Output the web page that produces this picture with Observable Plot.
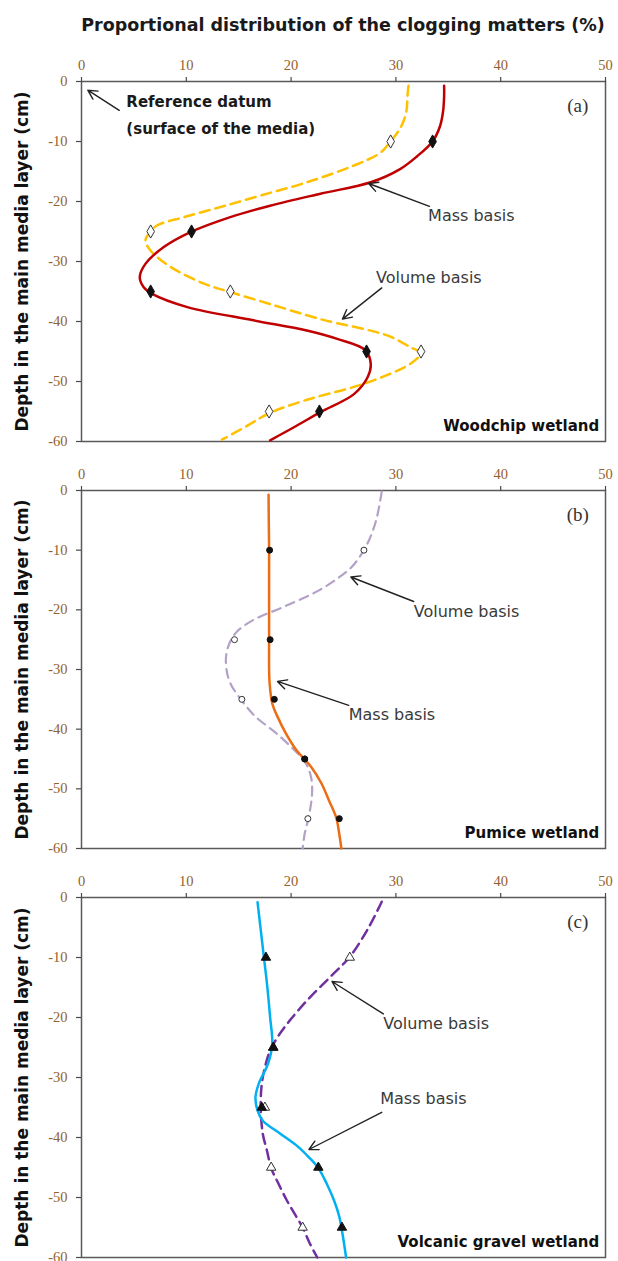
<!DOCTYPE html>
<html>
<head>
<meta charset="utf-8">
<script src="https://cdn.jsdelivr.net/npm/d3@7"></script>
<script src="https://cdn.jsdelivr.net/npm/@observablehq/plot@0.6"></script>
<style>
  html, body { margin: 0; padding: 0; background: #fff; }
  #chart { width: 618px; }
  #title { height: 45px; box-sizing: border-box; padding-left: 81px; width: 618px; padding-right: 13px;
           font-family: "DejaVu Sans", sans-serif; font-weight: bold; font-size: 17.5px; color: #1a1a1a;
           text-align: center; line-height: 50px; white-space: nowrap; }
  svg { display: block; }
</style>
</head>
<body>
<div id="chart">
  <div id="title">Proportional distribution of the clogging matters (%)</div>
</div>
<script>
// ---- data: sample depths (cm) and measured proportions (%) ----
const depths = [-10, -25, -35, -45, -55];
const woodMass = [33.5, 10.5, 6.6, 27.2, 22.7];
const woodVol = [29.5, 6.6, 14.2, 32.4, 17.9];
const pumiceMass = [17.95, 18.0, 18.4, 21.3, 24.6];
const pumiceVol = [26.95, 14.6, 15.3, 21.3, 21.6];
const gravelMass = [17.6, 18.3, 17.2, 22.6, 24.85];
const gravelVol = [25.6, 18.3, 17.5, 18.1, 21.1];

// ---- fitted curves (depth, value) ----
const woodMassCurveDepth = [-0.7, -2.5, -5, -7.5, -10, -12.5, -14.6, -16.8, -18.7, -20.7, -22.6, -25.1, -27.6, -30.4, -32.6, -34.3, -35.4, -37.6, -39.8, -41.5, -42.9, -44.8, -47.1, -49.3, -52.1, -55.1, -57.5, -59.8];
const woodMassCurve = [34.6, 34.6, 34.5, 34.2, 33.5, 32.0, 30.4, 27.6, 22.8, 18.0, 14.2, 10.4, 7.85, 6.1, 5.56, 5.94, 6.75, 10.1, 16.4, 21.5, 24.4, 27.1, 27.6, 27.3, 26.0, 22.8, 20.4, 18.0];
const woodVolCurveDepth = [-0.7, -2.5, -5, -7.5, -10, -11.9, -14.0, -16.8, -19.0, -20.9, -22.6, -24.0, -25.2, -26.5, -28.2, -30.9, -33.7, -35.1, -37.1, -39.6, -42.4, -44.4, -45.2, -46.9, -48.9, -50.9, -53.0, -55.3, -57.5, -59.7];
const woodVolCurve = [31.2, 31.1, 31.0, 30.5, 29.5, 28.5, 26.0, 21.5, 17.1, 13.3, 9.8, 7.2, 6.5, 6.1, 6.6, 8.5, 11.7, 14.2, 18.0, 22.8, 29.3, 31.5, 32.4, 31.5, 29.2, 26.0, 21.6, 17.9, 15.7, 13.4];
const pumiceMassCurveDepth = [-0.7, -5, -10, -15, -20, -25, -30, -32.3, -35.7, -37.9, -40.7, -43.5, -46.3, -49.1, -51.9, -54.8, -57.6, -60];
const pumiceMassCurve = [17.85, 17.87, 17.9, 17.9, 17.9, 17.9, 17.9, 17.95, 18.2, 18.7, 19.5, 20.5, 21.9, 22.9, 23.6, 24.3, 24.6, 24.8];
const pumiceVolCurveDepth = [-0.2, -4.4, -7.2, -10, -12.8, -14.4, -16.7, -19.5, -21.7, -23.9, -26.7, -29.5, -32.3, -35.2, -37.9, -40.7, -43.5, -45.4, -48, -50.8, -53.6, -55.4, -57.5, -60];
const pumiceVolCurve = [28.65, 28.2, 27.7, 26.95, 25.8, 24.7, 22.7, 19.3, 16.4, 14.7, 13.9, 13.8, 14.2, 15.3, 16.6, 18.6, 20.3, 21.3, 21.9, 22.0, 21.8, 21.6, 21.3, 21.1];
const gravelMassCurveDepth = [-0.8, -9.9, -14.4, -20, -24.4, -27.7, -31.1, -33.3, -35.5, -37.2, -39.4, -41.6, -43.3, -45.1, -47.7, -50.5, -53.2, -56, -60];
const gravelMassCurve = [16.8, 17.4, 17.7, 18.0, 18.2, 17.8, 16.9, 16.6, 16.8, 17.3, 19.0, 20.7, 21.7, 22.6, 23.4, 24.1, 24.6, 24.9, 25.25];
const gravelVolCurveDepth = [-0.7, -5, -9.9, -13.3, -17.2, -21.1, -23.3, -25.5, -28.3, -31.1, -35, -39.4, -42.2, -45.1, -47.7, -50.5, -53.2, -55, -57.7, -60];
const gravelVolCurve = [28.65, 27.4, 25.6, 23.7, 21.5, 19.6, 18.7, 18.0, 17.5, 17.2, 17.1, 17.3, 17.7, 18.1, 18.8, 19.6, 20.5, 21.1, 21.8, 22.5];

// ---- axes ----
const xTicks = [0, 10, 20, 30, 40, 50];
const yTicks = [0, -10, -20, -30, -40, -50, -60];
const yLabel = "Depth in the main media layer (cm)";

// ---- annotations (data units) ----
const panelTags = ["(a)", "(b)", "(c)"];
const wetlandNames = ["Woodchip wetland", "Pumice wetland", "Volcanic gravel wetland"];
const notesA = [
  {x: 4.28, y: -3.5, text: "Reference datum", bold: true},
  {x: 4.28, y: -7.96, text: "(surface of the media)", bold: true},
  {x: 33.07, y: -22.4, text: "Mass basis"},
  {x: 28.1, y: -32.8, text: "Volume basis"}
];
const arrowsA = [
  {x1: 3.6, y1: -4.8, x2: 0.6, y2: -1.45},
  {x1: 33.2, y1: -20.8, x2: 27.4, y2: -17.0},
  {x1: 28.65, y1: -34.4, x2: 24.9, y2: -39.6}
];
const notesB = [
  {x: 31.7, y: -20.3, text: "Volume basis"},
  {x: 25.5, y: -37.6, text: "Mass basis"}
];
const arrowsB = [
  {x1: 31.7, y1: -18.6, x2: 25.7, y2: -14.5},
  {x1: 25.5, y1: -36.0, x2: 18.7, y2: -32.0}
];
const notesC = [
  {x: 28.8, y: -21.1, text: "Volume basis"},
  {x: 28.5, y: -33.6, text: "Mass basis"}
];
const arrowsC = [
  {x1: 28.8, y1: -19.4, x2: 23.9, y2: -14.0},
  {x1: 28.65, y1: -35.8, x2: 21.7, y2: -42.0}
];

const pts = (vals) => vals.map((v, i) => ({x: v, y: depths[i]}));
const curve = (ds, vs) => ds.map((d, i) => ({x: vs[i], y: d}));

function panel(cfg) {
  const sans = "DejaVu Sans, sans-serif";
  return Plot.plot({
    width: 618,
    height: cfg.height,
    marginLeft: 81,
    marginRight: 13,
    marginTop: cfg.marginTop,
    marginBottom: cfg.marginBottom,
    style: {background: "white", overflow: "visible", fontFamily: sans},
    x: {domain: [0, 50]},
    y: {domain: [-60, 0]},
    marks: [
      Plot.frame({stroke: "#5a5a5a", strokeWidth: 1.5}),
      Plot.axisX({anchor: "top", ticks: xTicks, tickSize: 5, tickFormat: () => "", label: null, stroke: "#4a4a4a", strokeWidth: 1.2}),
      Plot.axisX({anchor: "top", ticks: xTicks, tickSize: 0, tickPadding: 12, label: null, color: "#93612f",
                  fontSize: 14.5, fontFamily: "Liberation Serif, serif", tickFormat: d => String(d)}),
      Plot.axisY({anchor: "left", ticks: yTicks, tickSize: 5, tickFormat: () => "", label: null, stroke: "#4a4a4a", strokeWidth: 1.2}),
      Plot.axisY({anchor: "left", ticks: yTicks, tickSize: 0, tickPadding: 14, label: null, color: "#93612f",
                  fontSize: 14.5, fontFamily: "Liberation Serif, serif", tickFormat: d => String(d)}),
      Plot.text([yLabel], {frameAnchor: "left", dx: -59, rotate: -90, textAnchor: "middle", text: d => d, fontSize: 17,
                           fontWeight: "bold", fill: "#111", fontFamily: sans}),
      Plot.line(curve(cfg.volDepth, cfg.volCurve), {x: "x", y: "y", stroke: cfg.volColor, strokeWidth: cfg.volWidth,
                strokeDasharray: cfg.dash, curve: "catmull-rom"}),
      Plot.line(curve(cfg.massDepth, cfg.massCurve), {x: "x", y: "y", stroke: cfg.massColor, strokeWidth: 2.5, curve: "catmull-rom"}),
      Plot.dot(pts(cfg.vol), {x: "x", y: "y", symbol: cfg.symbol, r: cfg.r, fill: "white", stroke: "#333", strokeWidth: 1}),
      Plot.dot(pts(cfg.mass), {x: "x", y: "y", symbol: cfg.symbol, r: cfg.r, fill: "#111", stroke: "#111", strokeWidth: 1}),
      Plot.arrow(cfg.arrows, {x1: "x1", y1: "y1", x2: "x2", y2: "y2", stroke: "#222", strokeWidth: 1.4,
                 headLength: 11, headAngle: 55}),
      Plot.text(cfg.notes.filter(d => !d.bold), {x: "x", y: "y", text: "text", textAnchor: "start", fontSize: 16,
                fill: "#3a3a3a", fontFamily: sans, letterSpacing: "-0.4px"}),
      Plot.text(cfg.notes.filter(d => d.bold), {x: "x", y: "y", text: "text", textAnchor: "start", fontSize: 15,
                fontWeight: "bold", fill: "#1a1a1a", fontFamily: sans}),
      Plot.text([cfg.tag], {x: 47.35, y: -4.1, text: d => d, fontSize: 19, fill: "#333",
                fontFamily: "Liberation Serif, serif"}),
      Plot.text([cfg.name], {x: 49.4, y: -57.5, text: d => d, textAnchor: "end", fontSize: 15,
                fontWeight: "bold", fill: "#111", fontFamily: sans})
    ]
  });
}

const chart = document.getElementById("chart");
chart.appendChild(panel({
  height: 403, marginTop: 36, marginBottom: 7,
  vol: woodVol, mass: woodMass, volDepth: woodVolCurveDepth, volCurve: woodVolCurve,
  massDepth: woodMassCurveDepth, massCurve: woodMassCurve,
  volColor: "#ffc000", massColor: "#c00000", volWidth: 2.5, dash: "10,6",
  symbol: "diamond", r: 4, arrows: arrowsA, notes: notesA, tag: panelTags[0], name: wetlandNames[0]
}));
chart.appendChild(panel({
  height: 405, marginTop: 42, marginBottom: 5,
  vol: pumiceVol, mass: pumiceMass, volDepth: pumiceVolCurveDepth, volCurve: pumiceVolCurve,
  massDepth: pumiceMassCurveDepth, massCurve: pumiceMassCurve,
  volColor: "#b3a2c7", massColor: "#ec6d15", volWidth: 2.2, dash: "9,6",
  symbol: "circle", r: 3, arrows: arrowsB, notes: notesB, tag: panelTags[1], name: wetlandNames[1]
}));
chart.appendChild(panel({
  height: 408, marginTop: 44, marginBottom: 4,
  vol: gravelVol, mass: gravelMass, volDepth: gravelVolCurveDepth, volCurve: gravelVolCurve,
  massDepth: gravelMassCurveDepth, massCurve: gravelMassCurve,
  volColor: "#7030a0", massColor: "#00b0f0", volWidth: 2.5, dash: "10,6",
  symbol: "triangle", r: 3.5, arrows: arrowsC, notes: notesC, tag: panelTags[2], name: wetlandNames[2]
}));
</script>
</body>
</html>
